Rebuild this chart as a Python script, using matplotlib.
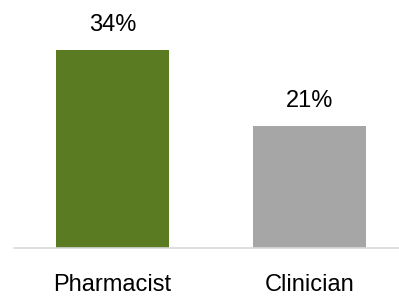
import matplotlib.pyplot as plt
from matplotlib import font_manager

categories = ['Pharmacist', 'Clinician']
values = [34, 21]
colors = ['#5B7B22', '#A6A6A6']

names = {f.name for f in font_manager.fontManager.ttflist}
fam = 'Liberation Sans Narrow' if 'Liberation Sans Narrow' in names else 'Liberation Sans'
plt.rcParams['font.family'] = [fam, 'DejaVu Sans']

fig = plt.figure(figsize=(3.99, 2.97), dpi=100)
ax = fig.add_axes([14 / 399, 1 - 248 / 297, 1 - 14 / 399, 248 / 297])

x = range(len(categories))
bars = ax.bar(x, values, width=0.574, color=colors)
for b, v in zip(bars, values):
    ax.annotate(f'{v}%', (b.get_x() + b.get_width() / 2, v), xytext=(0, 10),
                textcoords='offset points', ha='center', va='bottom', fontsize=17, color='#000000')

ax.set_xlim(-0.5, 1.454)
ax.set_ylim(0, 42.6)
ax.set_xticks(list(x))
ax.set_xticklabels(categories, fontsize=17)
ax.tick_params(axis='x', length=0, pad=19)
ax.set_yticks([])
for s in ['top', 'right', 'left']:
    ax.spines[s].set_visible(False)
ax.spines['bottom'].set_color('#D9D9D9')
ax.spines['bottom'].set_linewidth(1.2)

fig.savefig('out.png', dpi=100)
